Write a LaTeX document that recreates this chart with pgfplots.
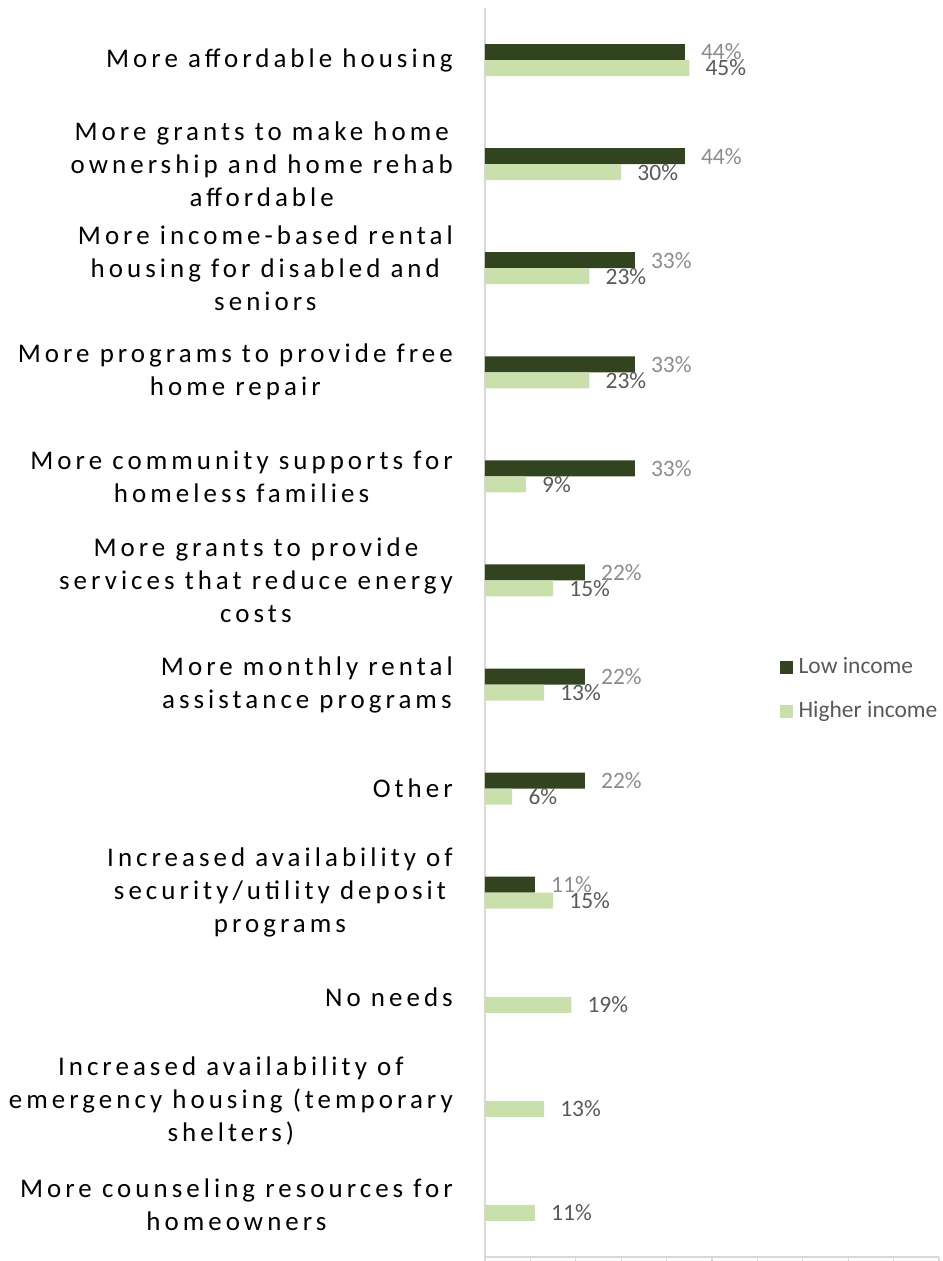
\documentclass[border=0pt]{standalone}
\usepackage{fontspec}
\setmainfont{Carlito}
\newfontfamily\spaced[LetterSpace=15]{Carlito}
\usepackage{pgfplots}
\usepackage{pgfplotstable}
\pgfplotsset{compat=1.18}
\definecolor{darkg}{RGB}{50,68,31}
\definecolor{lightg}{RGB}{201,224,173}
\definecolor{axisgray}{RGB}{217,217,217}
\definecolor{labdark}{RGB}{89,89,89}
\definecolor{lablight}{RGB}{140,140,140}

\pgfplotstableread{
y low
11 44
10 44
9 33
8 33
7 33
6 22
5 22
4 22
3 11
}\lowdata
\pgfplotstableread{
y high
11 45
10 30
9 23
8 23
7 9
6 15
5 13
4 6
3 15
2 19
1 13
0 11
}\highdata

\begin{document}
\begin{tikzpicture}
\begin{axis}[
  at={(363.75pt,3pt)}, anchor=south west,
  scale only axis, width=340.5pt, height=936.75pt,
  xbar, bar width=12pt,
  xmin=0, xmax=100, ymin=-0.5, ymax=11.5,
  axis x line*=bottom, axis y line*=left,
  axis line style={draw=axisgray, line width=1.1pt},
  xtick={0,10,...,100}, xticklabels={},
  x tick style={draw=axisgray, line width=0.8pt},
  tick align=outside, major tick length=4pt,
  ytick={0,...,11}, y tick style={draw=none},
  yticklabels={
    {More counseling resources for\\homeowners},
    {Increased availability of\\emergency housing (temporary\\shelters)},
    {No needs},
    {Increased availability of\\security/utility deposit\\programs},
    {Other},
    {More monthly rental\\assistance programs},
    {More grants to provide\\services that reduce energy\\costs},
    {More community supports for\\homeless families},
    {More programs to provide free\\home repair},
    {More income-based rental\\housing for disabled and\\seniors},
    {More grants to make home\\ownership and home rehab\\affordable},
    {More affordable housing}},
  yticklabel style={align=center, font=\fontsize{20.2pt}{24.75pt}\selectfont\spaced, inner sep=0pt, xshift=-20pt, text=black},
  point meta=x,
  /pgf/number format/assume math mode=true,
  nodes near coords={\pgfmathprintnumber{\pgfplotspointmeta}\%},
  nodes near coords align={horizontal},
  every node near coord/.append style={font=\fontsize{17.6pt}{20pt}\selectfont, inner sep=0pt, xshift=12pt, anchor=west},
  legend style={at={(0.641,0.4825)}, anchor=north west, draw=none, fill=none,
    font=\fontsize{17.6pt}{20pt}\selectfont, text=labdark, row sep=17pt,
    nodes={inner sep=0pt, text height=12pt, text depth=4pt}},
  legend cell align=left,
  legend image code/.code={\fill[#1] (0pt,-4.875pt) rectangle (9.75pt,4.875pt);},
  clip=false,
]
\addplot[fill=darkg, draw=none, bar shift=6pt, every node near coord/.append style={text=lablight}] table[x=low, y=y] {\lowdata};
\addplot[fill=lightg, draw=none, bar shift=-6pt, every node near coord/.append style={text=labdark}] table[x=high, y=y] {\highdata};
\legend{\hspace{4pt}Low income, \hspace{4pt}Higher income}
\end{axis}
\pgfresetboundingbox
\path (0,0) rectangle (707.25pt,945.75pt);
\end{tikzpicture}
\end{document}
